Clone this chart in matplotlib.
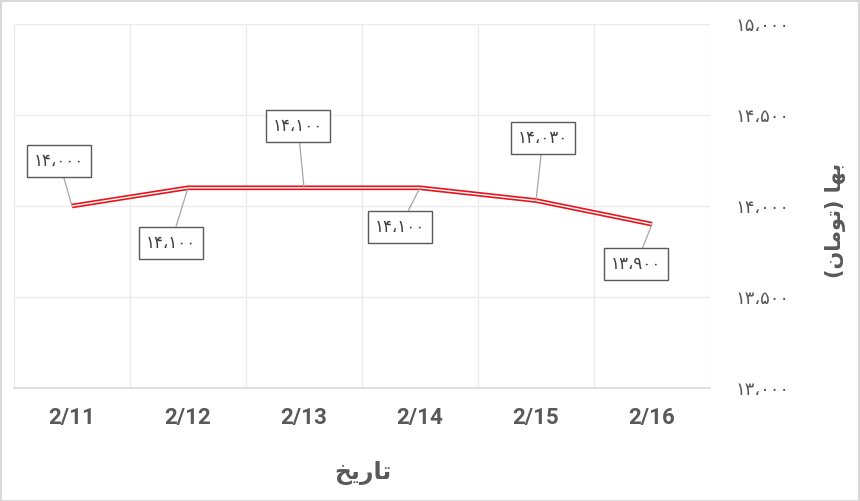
import matplotlib
matplotlib.use("Agg")
import matplotlib.pyplot as plt
from matplotlib.patches import Rectangle

# ---- data ----
dates = ["2/11", "2/12", "2/13", "2/14", "2/15", "2/16"]
prices = [14000, 14100, 14100, 14100, 14030, 13900]
y_ticks = [13000, 13500, 14000, 14500, 15000]

# label offsets in pixels (layout only)
label_offsets = [(-13, 45), (-17, -55), (-6, 62), (-20, -39), (7, 63), (-16, -40)]

PERSIAN = str.maketrans("0123456789,", "۰۱۲۳۴۵۶۷۸۹،")

def fa(n):
    return f"{n:,}".translate(PERSIAN)

# pre-shaped (visual order) Persian strings
xlabel_txt = "\uFEA6\uFBFE\uFEAD\uFE8E\uFE97"  # تاریخ
ylabel_txt = "(\uFEE5\uFE8E\uFEE3\uFEEE\uFE97) \uFE8E\uFEEC\uFE91"  # بها (تومان)

fig = plt.figure(figsize=(8.6, 5.01), dpi=100)
W, H = 860, 501
ax = fig.add_axes([14 / W, (H - 388) / H, (710 - 14) / W, (388 - 24) / H])

x = list(range(len(dates)))
ax.plot(x, prices, color="#e8141b", lw=3.4, solid_capstyle="butt", zorder=3)
ax.plot(x, prices, color="white", lw=1.0, solid_capstyle="butt", zorder=4)

ax.set_xlim(-0.5, len(dates) - 0.5)
ax.set_ylim(13000, 15000)
ax.set_yticks(y_ticks)
ax.set_yticklabels([fa(v) for v in y_ticks], family="DejaVu Sans", fontsize=13, color="#595959")
ax.yaxis.tick_right()
ax.tick_params(axis="y", length=0, pad=18)
for t in ax.get_yticklabels():
    t.set_horizontalalignment("left")

ax.set_xticks(x)
ax.set_xticklabels(dates, family="Roboto", fontweight="bold", fontsize=16, color="#595959")
ax.set_xticks([i - 0.5 for i in range(len(dates) + 1)], minor=True)
ax.tick_params(axis="x", which="both", length=0, pad=14)

ax.grid(True, axis="y", which="major", color="#ececec", lw=1)
ax.grid(True, axis="x", which="minor", color="#ececec", lw=1)
ax.set_axisbelow(True)

for s in ["top", "right", "left"]:
    ax.spines[s].set_visible(False)
ax.spines["bottom"].set_color("#d9d9d9")
ax.spines["bottom"].set_linewidth(1.2)

for xi, yi, off in zip(x, prices, label_offsets):
    ax.annotate(fa(yi), xy=(xi, yi), xytext=off, textcoords="offset pixels",
                ha="center", va="center", fontsize=12, family="DejaVu Sans", color="#404040",
                bbox=dict(boxstyle="square,pad=0.42", fc="white", ec="#595959", lw=1),
                arrowprops=dict(arrowstyle="-", color="#a6a6a6", lw=0.9, shrinkA=0, shrinkB=0),
                zorder=5)

fig.text(363 / W, 1 - 473 / H, xlabel_txt, ha="center", va="center",
         fontsize=17, fontweight="bold", family="DejaVu Sans", color="#595959")
fig.text(836 / W, 1 - 220 / H, ylabel_txt, ha="center", va="center", rotation=90,
         fontsize=15, fontweight="bold", family="DejaVu Sans", color="#595959")

fig.patches.append(Rectangle((0.5 / W, 0.5 / H), 1 - 1.5 / W, 1 - 1.5 / H, transform=fig.transFigure,
                             fill=False, ec="#d9d9d9", lw=1.5))

fig.savefig("out.png", dpi=100)
